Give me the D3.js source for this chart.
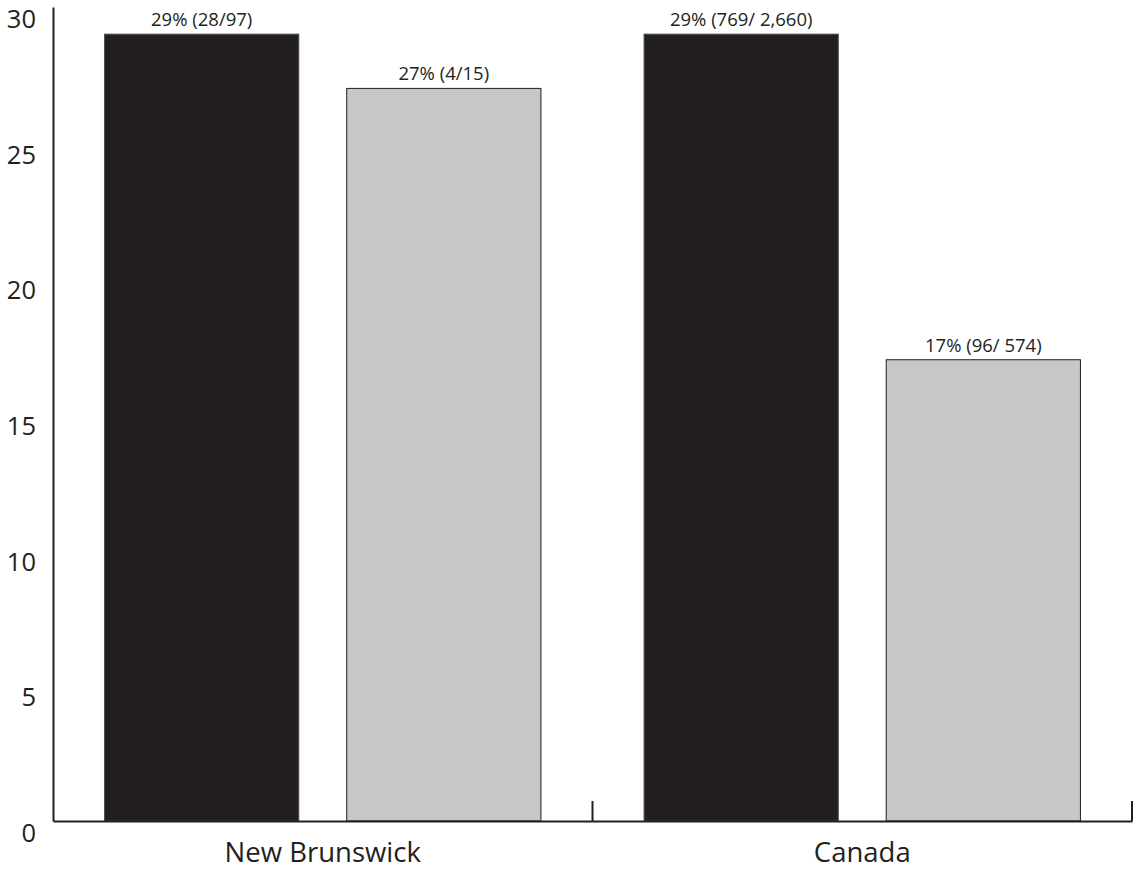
<!DOCTYPE html>
<html>
<head>
<meta charset="utf-8">
<script src="https://cdn.jsdelivr.net/npm/d3@7"></script>
<style>
  html, body { margin: 0; padding: 0; background: #fff; }
  svg { display: block; font-family: "Open Sans", sans-serif; }
</style>
</head>
<body>
<svg id="chart" width="1138" height="871"></svg>
<script>
const categories = ["New Brunswick", "Canada"];
const seriesNames = ["A", "B"];
const seriesA = [29, 29];
const seriesB = [27, 17];
const labelsA = ["29% (28/97)", "29% (769/ 2,660)"];
const labelsB = ["27% (4/15)", "17% (96/ 574)"];
const yTicks = [0, 5, 10, 15, 20, 25, 30];

const svg = d3.select("#chart");
const ink = "#231f20";

const x0 = d3.scaleBand().domain(categories).range([53, 1132]).paddingInner(0).paddingOuter(0);
const x1 = d3.scaleBand().domain(seriesNames).range([0, x0.bandwidth()]).paddingInner(0.198).paddingOuter(0.213);
const y = d3.scaleLinear().domain([0, 30]).range([821, 7]);

const rows = [];
categories.forEach((c, i) => {
  rows.push({cat: c, s: "A", v: seriesA[i], label: labelsA[i]});
  rows.push({cat: c, s: "B", v: seriesB[i], label: labelsB[i]});
});
const fill = {A: ink, B: "#c6c7c9"};
const stroke = {A: "#4d4d4f", B: ink};

// bars
svg.append("g").selectAll("rect").data(rows).join("rect")
  .attr("x", d => x0(d.cat) + x1(d.s))
  .attr("y", d => y(d.v))
  .attr("width", x1.bandwidth())
  .attr("height", d => y(0) - y(d.v))
  .attr("fill", d => fill[d.s])
  .attr("stroke", d => stroke[d.s])
  .attr("stroke-width", 1);

// bar labels
svg.append("g").selectAll("text").data(rows).join("text")
  .attr("x", d => x0(d.cat) + x1(d.s) + x1.bandwidth() / 2)
  .attr("y", d => y(d.v) - 8)
  .attr("text-anchor", "middle")
  .attr("font-size", "18.5px")
  .attr("fill", ink)
  .text(d => d.label);

// y axis
const yAxis = d3.axisLeft(y).tickValues(yTicks).tickSize(0).tickPadding(17).tickSizeOuter(0);
const gy = svg.append("g").attr("transform", "translate(53,0)").call(yAxis);
gy.select(".domain").attr("stroke", ink).attr("stroke-width", 2);
gy.selectAll("text")
  .attr("font-size", "25.5px")
  .attr("font-family", "'Open Sans', sans-serif")
  .attr("fill", ink)
  .attr("dy", "0")
  .attr("y", 20.5);

// x axis baseline with category boundary ticks
const xAxis = d3.axisBottom(x0).tickSize(0).tickPadding(26).tickSizeOuter(0);
const gx = svg.append("g").attr("transform", `translate(0,${y(0)})`).call(xAxis);
gx.select(".domain").attr("stroke", ink).attr("stroke-width", 2);
gx.selectAll("text")
  .attr("font-size", "27.5px")
  .attr("font-family", "'Open Sans', sans-serif")
  .attr("fill", ink)
  .attr("dy", "0")
  .attr("y", 41);

const bounds = categories.map(c => x0(c) + x0.bandwidth());
svg.append("g").selectAll("line").data(bounds).join("line")
  .attr("x1", d => d).attr("x2", d => d)
  .attr("y1", y(0)).attr("y2", y(0) - 20)
  .attr("stroke", ink).attr("stroke-width", 2);
</script>
</body>
</html>
